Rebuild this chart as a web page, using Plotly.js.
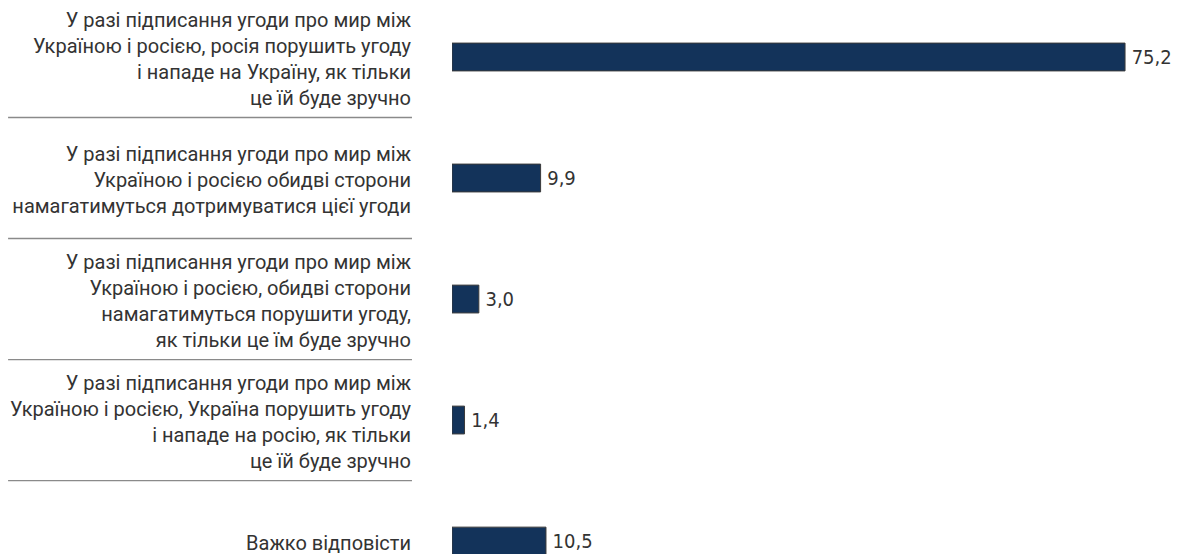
<!DOCTYPE html>
<html><head><meta charset="utf-8">
<script src="https://cdn.plot.ly/plotly-3.0.1.min.js"></script>
<style>html,body{margin:0;padding:0;background:#fff}#chart{width:1179px;height:554px}</style>
</head><body><div id="chart"></div>
<script>
const categories = [
  "У разі підписання угоди про мир між<br>Україною і росією, росія порушить угоду<br>і нападе на Україну, як тільки<br>це їй буде зручно",
  "У разі підписання угоди про мир між<br>Україною і росією обидві сторони<br>намагатимуться дотримуватися цієї угоди",
  "У разі підписання угоди про мир між<br>Україною і росією, обидві сторони<br>намагатимуться порушити угоду,<br>як тільки це їм буде зручно",
  "У разі підписання угоди про мир між<br>Україною і росією, Україна порушить угоду<br>і нападе на росію, як тільки<br>це їй буде зручно",
  "Важко відповісти"
];
const values = [75.2, 9.9, 3.0, 1.4, 10.5];
const ids = [0, 1, 2, 3, 4];
const separatorsAt = [0.5, 1.5, 2.5, 3.5];

const trace = {
  type: 'bar', orientation: 'h',
  x: values, y: ids,
  marker: {color: '#13335a', line: {color: '#3a3a3a', width: 1}},
  texttemplate: '\u2009%{x:.1f}', textposition: 'outside',
  textfont: {family: 'Liberation Sans Narrow, DejaVu Sans Condensed, sans-serif', size: 20, color: '#333'},
  cliponaxis: false, hoverinfo: 'none', width: 0.23
};

const shapes = separatorsAt.map(v => ({
  type: 'line', xref: 'paper', yref: 'y', x0: -0.620, x1: -0.0559, y0: v, y1: v,
  line: {color: '#8a8a8a', width: 1.3}
}));

const layout = {
  width: 1179, height: 554,
  margin: {l: 452, r: 11, t: 0, b: 0},
  paper_bgcolor: '#fff', plot_bgcolor: '#fff',
  separators: ', ',
  showlegend: false,
  xaxis: {range: [0, 80], visible: false, fixedrange: true},
  yaxis: {
    range: [4.107, -0.471], tickmode: 'array', tickvals: ids, ticktext: categories,
    ticks: 'outside', ticklen: 36, tickcolor: 'rgba(0,0,0,0)',
    ticklabelshift: -2, ticklabeloverflow: 'allow',
    showgrid: false, zeroline: false, showline: false,
    tickfont: {family: 'Roboto', size: 20, color: '#333'}
  },
  shapes: shapes
};

Plotly.newPlot('chart', [trace], layout, {displayModeBar: false, staticPlot: true});
</script></body></html>
